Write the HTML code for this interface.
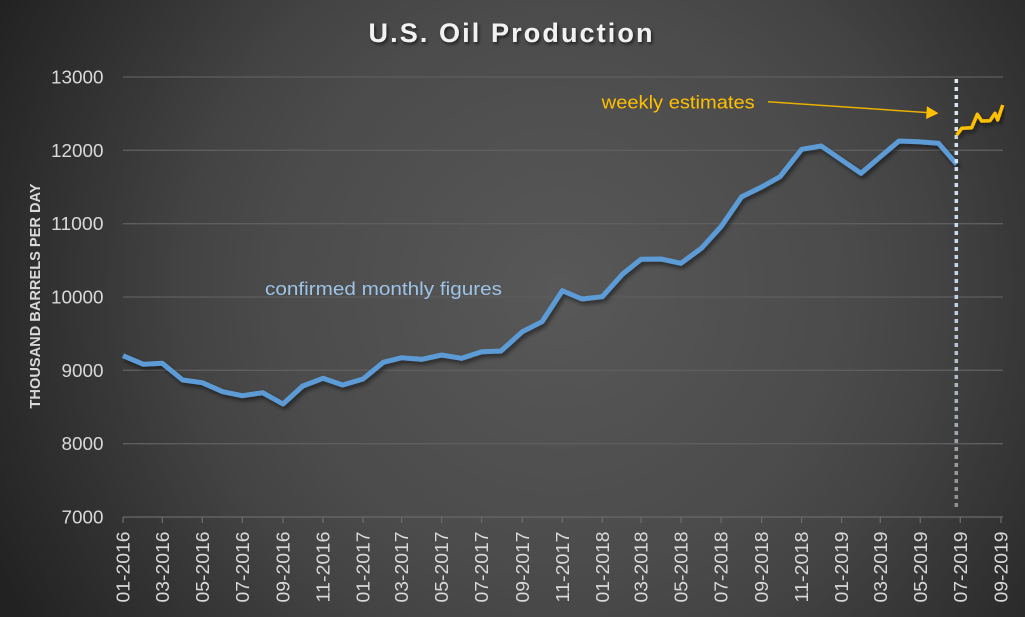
<!DOCTYPE html>
<html>
<head>
<meta charset="utf-8">
<style>
  html,body{margin:0;padding:0;background:#333;}
  svg{display:block;}
  text{font-family:"Liberation Sans", Arial, sans-serif;}
</style>
</head>
<body>
<svg width="1025" height="617" viewBox="0 0 1025 617" xmlns="http://www.w3.org/2000/svg">
  <defs>
    <radialGradient id="bg" gradientUnits="userSpaceOnUse" cx="560" cy="290" r="630">
      <stop offset="0" stop-color="#585858"/>
      <stop offset="0.45" stop-color="#4b4b4b"/>
      <stop offset="0.6" stop-color="#434343"/>
      <stop offset="0.75" stop-color="#363636"/>
      <stop offset="1" stop-color="#222222"/>
    </radialGradient>
    <linearGradient id="dotg" gradientUnits="userSpaceOnUse" x1="0" y1="78" x2="0" y2="508">
      <stop offset="0" stop-color="#dce9f6"/>
      <stop offset="0.5" stop-color="#c2d5e9"/>
      <stop offset="1" stop-color="#8e8e8e"/>
    </linearGradient>
    <filter id="sh" x="-5%" y="-10%" width="110%" height="130%">
      <feDropShadow dx="2" dy="3" stdDeviation="2" flood-color="#000" flood-opacity="0.5"/>
    </filter>
    <filter id="tsh" x="-5%" y="-20%" width="110%" height="150%">
      <feDropShadow dx="1.5" dy="2" stdDeviation="1.5" flood-color="#000" flood-opacity="0.6"/>
    </filter>
  </defs>

  <rect x="0" y="0" width="1025" height="617" fill="url(#bg)"/>

  <!-- Title -->
  <text x="510.5" y="42" text-anchor="middle" font-size="27" font-weight="bold" fill="#f2f2f2" textLength="284" lengthAdjust="spacing" filter="url(#tsh)">U.S. Oil Production</text>

  <!-- Gridlines -->
  <g stroke="#5e5e5e" stroke-width="1.3">
    <line x1="123" y1="77" x2="1003" y2="77"/>
    <line x1="123" y1="150.3" x2="1003" y2="150.3"/>
    <line x1="123" y1="223.7" x2="1003" y2="223.7"/>
    <line x1="123" y1="297" x2="1003" y2="297"/>
    <line x1="123" y1="370.3" x2="1003" y2="370.3"/>
    <line x1="123" y1="443.7" x2="1003" y2="443.7"/>
  </g>
  <!-- X axis line and ticks -->
  <g stroke="#6a6a6a" stroke-width="1.3">
    <line x1="123" y1="517" x2="1003" y2="517"/>
    <line x1="123" y1="517" x2="123" y2="523"/>
    <line x1="162.3" y1="517" x2="162.3" y2="523"/>
    <line x1="202.3" y1="517" x2="202.3" y2="523"/>
    <line x1="242.3" y1="517" x2="242.3" y2="523"/>
    <line x1="283" y1="517" x2="283" y2="523"/>
    <line x1="323" y1="517" x2="323" y2="523"/>
    <line x1="363" y1="517" x2="363" y2="523"/>
    <line x1="401.7" y1="517" x2="401.7" y2="523"/>
    <line x1="441.7" y1="517" x2="441.7" y2="523"/>
    <line x1="481.7" y1="517" x2="481.7" y2="523"/>
    <line x1="522.3" y1="517" x2="522.3" y2="523"/>
    <line x1="562.3" y1="517" x2="562.3" y2="523"/>
    <line x1="602.3" y1="517" x2="602.3" y2="523"/>
    <line x1="641" y1="517" x2="641" y2="523"/>
    <line x1="681" y1="517" x2="681" y2="523"/>
    <line x1="721" y1="517" x2="721" y2="523"/>
    <line x1="761.6" y1="517" x2="761.6" y2="523"/>
    <line x1="801.6" y1="517" x2="801.6" y2="523"/>
    <line x1="841.6" y1="517" x2="841.6" y2="523"/>
    <line x1="880.3" y1="517" x2="880.3" y2="523"/>
    <line x1="920.3" y1="517" x2="920.3" y2="523"/>
    <line x1="960.3" y1="517" x2="960.3" y2="523"/>
    <line x1="1001" y1="517" x2="1001" y2="523"/>
  </g>

  <!-- Y labels -->
  <g font-size="18" fill="#d9d9d9" text-anchor="end">
    <text x="103.5" y="83.5" textLength="52.5" lengthAdjust="spacingAndGlyphs">13000</text>
    <text x="103.5" y="156.8" textLength="52.5" lengthAdjust="spacingAndGlyphs">12000</text>
    <text x="103.5" y="230.2" textLength="52.5" lengthAdjust="spacingAndGlyphs">11000</text>
    <text x="103.5" y="303.5" textLength="52.5" lengthAdjust="spacingAndGlyphs">10000</text>
    <text x="103.5" y="376.8" textLength="42" lengthAdjust="spacingAndGlyphs">9000</text>
    <text x="103.5" y="450.2" textLength="42" lengthAdjust="spacingAndGlyphs">8000</text>
    <text x="103.5" y="523.5" textLength="42" lengthAdjust="spacingAndGlyphs">7000</text>
  </g>

  <!-- Y axis title -->
  <text transform="translate(40,296) rotate(-90)" text-anchor="middle" font-size="15" font-weight="bold" fill="#d9d9d9" textLength="225" lengthAdjust="spacingAndGlyphs">THOUSAND BARRELS PER DAY</text>

  <!-- X labels -->
  <g font-size="18" fill="#d9d9d9" text-anchor="end">
    <text transform="translate(129.5,531.5) rotate(-90)" textLength="71" lengthAdjust="spacingAndGlyphs">01-2016</text>
    <text transform="translate(168.8,531.5) rotate(-90)" textLength="71" lengthAdjust="spacingAndGlyphs">03-2016</text>
    <text transform="translate(208.8,531.5) rotate(-90)" textLength="71" lengthAdjust="spacingAndGlyphs">05-2016</text>
    <text transform="translate(248.8,531.5) rotate(-90)" textLength="71" lengthAdjust="spacingAndGlyphs">07-2016</text>
    <text transform="translate(289.5,531.5) rotate(-90)" textLength="71" lengthAdjust="spacingAndGlyphs">09-2016</text>
    <text transform="translate(329.5,531.5) rotate(-90)" textLength="71" lengthAdjust="spacingAndGlyphs">11-2016</text>
    <text transform="translate(369.5,531.5) rotate(-90)" textLength="71" lengthAdjust="spacingAndGlyphs">01-2017</text>
    <text transform="translate(408.2,531.5) rotate(-90)" textLength="71" lengthAdjust="spacingAndGlyphs">03-2017</text>
    <text transform="translate(448.2,531.5) rotate(-90)" textLength="71" lengthAdjust="spacingAndGlyphs">05-2017</text>
    <text transform="translate(488.2,531.5) rotate(-90)" textLength="71" lengthAdjust="spacingAndGlyphs">07-2017</text>
    <text transform="translate(528.8,531.5) rotate(-90)" textLength="71" lengthAdjust="spacingAndGlyphs">09-2017</text>
    <text transform="translate(568.8,531.5) rotate(-90)" textLength="71" lengthAdjust="spacingAndGlyphs">11-2017</text>
    <text transform="translate(608.8,531.5) rotate(-90)" textLength="71" lengthAdjust="spacingAndGlyphs">01-2018</text>
    <text transform="translate(647.5,531.5) rotate(-90)" textLength="71" lengthAdjust="spacingAndGlyphs">03-2018</text>
    <text transform="translate(687.5,531.5) rotate(-90)" textLength="71" lengthAdjust="spacingAndGlyphs">05-2018</text>
    <text transform="translate(727.5,531.5) rotate(-90)" textLength="71" lengthAdjust="spacingAndGlyphs">07-2018</text>
    <text transform="translate(768.1,531.5) rotate(-90)" textLength="71" lengthAdjust="spacingAndGlyphs">09-2018</text>
    <text transform="translate(808.1,531.5) rotate(-90)" textLength="71" lengthAdjust="spacingAndGlyphs">11-2018</text>
    <text transform="translate(848.1,531.5) rotate(-90)" textLength="71" lengthAdjust="spacingAndGlyphs">01-2019</text>
    <text transform="translate(886.8,531.5) rotate(-90)" textLength="71" lengthAdjust="spacingAndGlyphs">03-2019</text>
    <text transform="translate(926.8,531.5) rotate(-90)" textLength="71" lengthAdjust="spacingAndGlyphs">05-2019</text>
    <text transform="translate(966.8,531.5) rotate(-90)" textLength="71" lengthAdjust="spacingAndGlyphs">07-2019</text>
    <text transform="translate(1007.5,531.5) rotate(-90)" textLength="71" lengthAdjust="spacingAndGlyphs">09-2019</text>
  </g>

  <!-- Annotations -->
  <text x="265" y="295" font-size="18.5" fill="#9dc3e6" textLength="237" lengthAdjust="spacingAndGlyphs">confirmed monthly figures</text>
  <text x="601.7" y="108.3" font-size="18.5" fill="#ffc000" textLength="153" lengthAdjust="spacingAndGlyphs">weekly estimates</text>
  <line x1="768" y1="101.7" x2="928" y2="112.6" stroke="#e8b000" stroke-width="1.5"/>
  <polygon points="938.5,113.3 926.1,119 926.9,106.3" fill="#ffc000"/>

  <!-- Monthly series -->
  <polyline filter="url(#sh)" fill="none" stroke="#5b9bd5" stroke-width="5" stroke-linejoin="round" stroke-linecap="butt"
    points="123,355.7 143.4,364.3 162.3,363.3 182.7,380 202.3,382.7 222.7,391.7 242.3,395.7 262.7,392.7 283,404 302.7,386 323,378.3 342.7,385 363,379 383.3,362.3 401.7,357.7 421.7,359.3 441.7,355 461.7,358.3 481.7,351.7 501,351 522.3,331.7 542,321.7 562.3,290.7 582,299 602.3,296.7 622.6,274 641,259.3 661,259 681,263.3 701.3,248.3 721,226.7 741.7,196.7 761.6,187 780,176.7 801.6,149.3 821.3,146 841.6,160 861,173.3 880,157 899,141 918.5,141.7 938.5,143.3 956.7,164.3"/>

  <!-- Dotted separator -->
  <line x1="956.3" y1="79" x2="956.3" y2="508" stroke="url(#dotg)" stroke-width="3.5" stroke-dasharray="4 4"/>

  <!-- Weekly series -->
  <polyline filter="url(#sh)" fill="none" stroke="#ffc000" stroke-width="3.5" stroke-linejoin="round"
    points="956.7,135 961.7,128.3 971.7,127.7 977.3,114.3 981.7,121 990,120.7 995,113.3 997.7,120 1002.7,105"/>
</svg>
</body>
</html>
